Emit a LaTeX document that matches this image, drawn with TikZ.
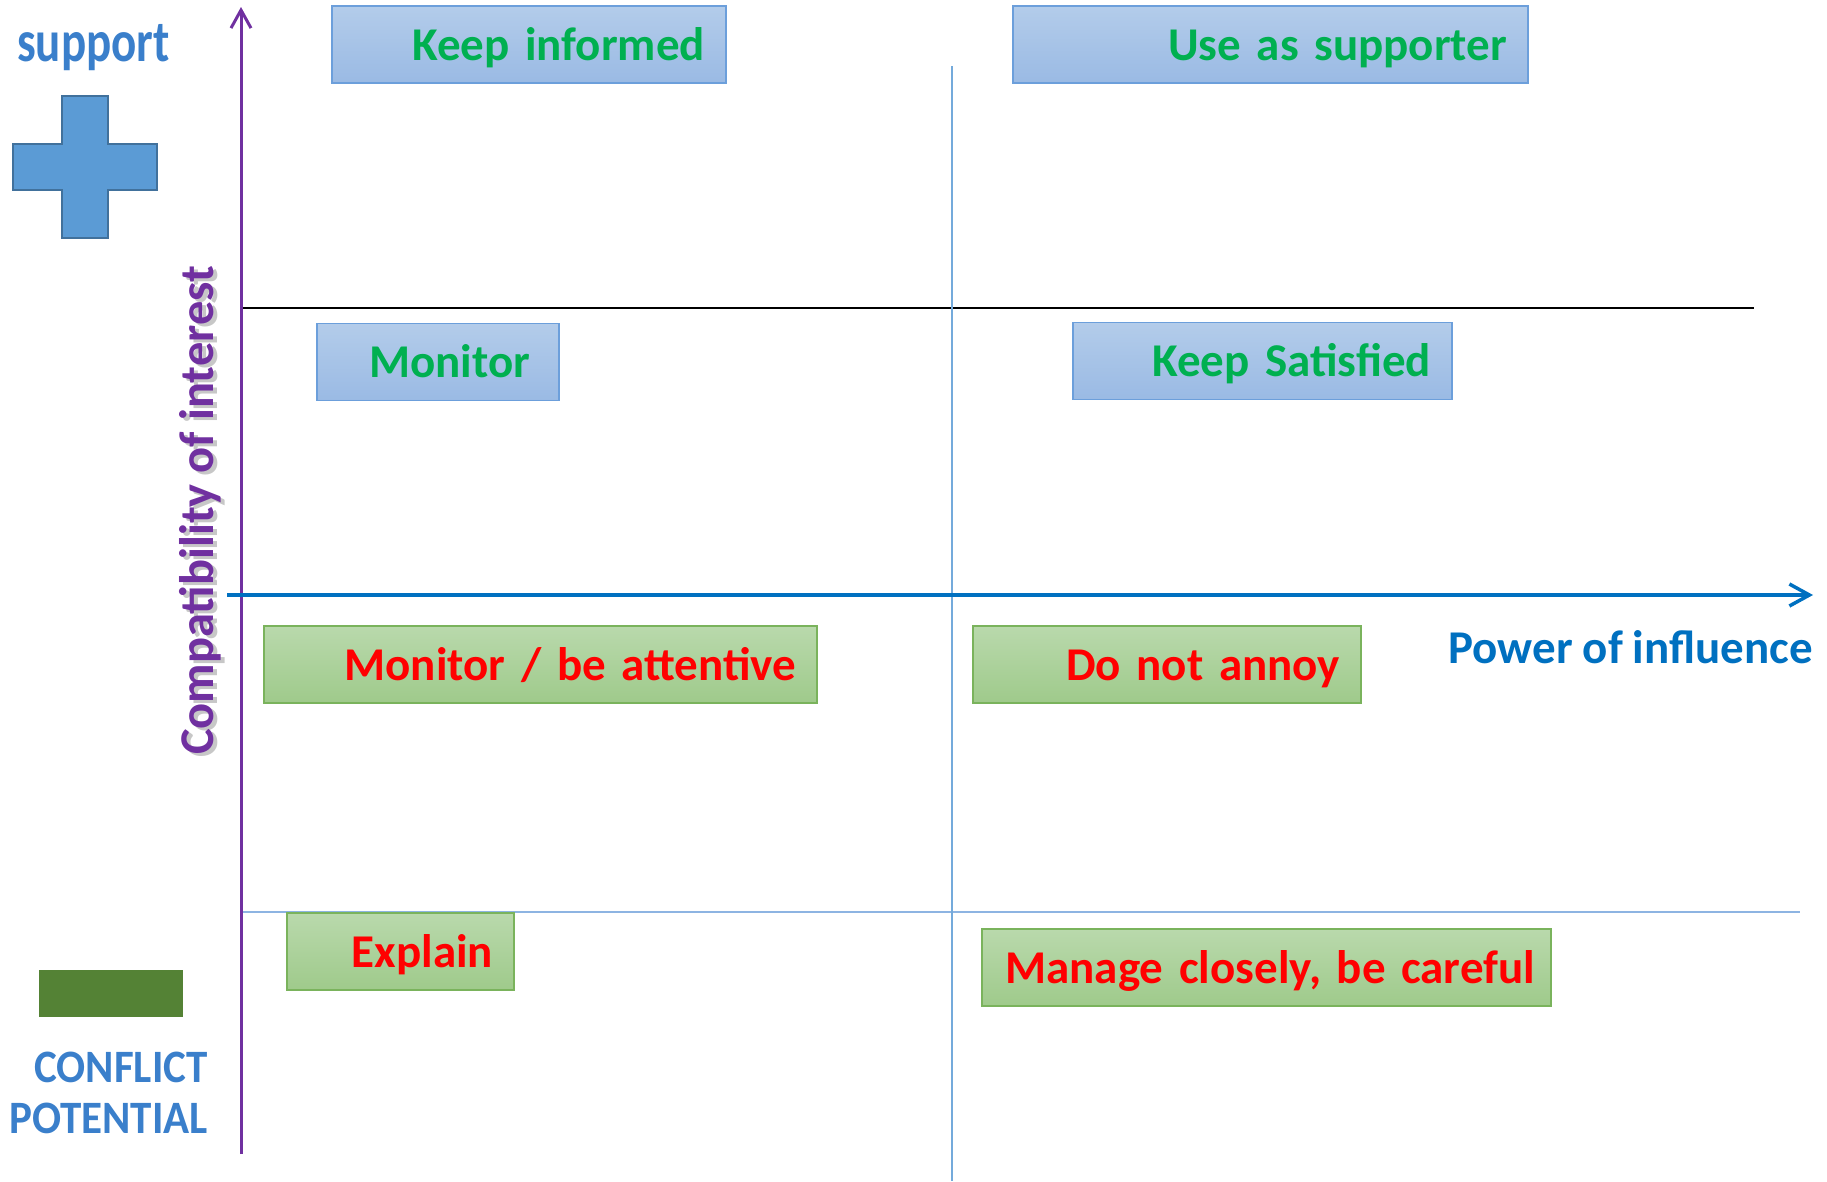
\documentclass[tikz,border=0pt]{standalone}
\usepackage{fontspec}
\setmainfont{Carlito}
\usepackage{xcolor}
\usepackage{graphicx}
\usepackage{tikz}
\usetikzlibrary{arrows.meta}

\newcommand\tightwords{\spaceskip=0.21em\relax}

\definecolor{interestpurple}{HTML}{7030A0}
\definecolor{powerblue}{HTML}{0070C0}
\definecolor{keepgreen}{HTML}{00B050}
\definecolor{alertred}{HTML}{FF0000}
\definecolor{blueTop}{HTML}{B3CCEA}
\definecolor{blueBottom}{HTML}{9ABAE4}
\definecolor{blueEdge}{HTML}{6C9FDB}
\definecolor{greenTop}{HTML}{B9D9AC}
\definecolor{greenBottom}{HTML}{9FCA8B}
\definecolor{greenEdge}{HTML}{7AB35C}
\definecolor{plusFill}{HTML}{5B9BD5}
\definecolor{plusEdge}{HTML}{41719C}
\definecolor{minusFill}{HTML}{548235}
\definecolor{wordart}{HTML}{3A7FCB}
\definecolor{gridline}{HTML}{8DB4E2}

\begin{document}
\begin{tikzpicture}[
    x=1pt, y=-1pt,
    bigfont/.style={font=\fontsize{47}{56}\selectfont\bfseries\tightwords},
    caption/.style={bigfont, inner sep=0pt},
    component/.style={rectangle, bigfont, line width=1.5pt, inner xsep=21pt, inner ysep=0pt,
        minimum height=77pt, text height=40pt, text depth=9pt, align=right},
    support_box/.style={component, top color=blueTop, bottom color=blueBottom, draw=blueEdge, text=keepgreen, text width=#1},
    conflict_box/.style={component, top color=greenTop, bottom color=greenBottom, draw=greenEdge, text=alertred, text width=#1},
    interest_arrow/.style={-{Straight Barb[length=18pt, width=20pt]}, line width=3pt, interestpurple},
    power_arrow/.style={-{Straight Barb[length=20pt, width=22pt]}, line width=3.5pt, powerblue},
    divider/.style={line width=1.5pt}
]
\useasboundingbox (0,0) rectangle (1827,1181);

% Axis end points
\coordinate (interest_start) at (241,1154);
\coordinate (interest_end) at (241,7);
\coordinate (power_start) at (227,595);
\coordinate (power_end) at (1813,595);
\coordinate (middle_top) at (952,66);
\coordinate (middle_bottom) at (952,1181);
\coordinate (upper_left) at (241,308);
\coordinate (upper_right) at (1754,308);
\coordinate (lower_left) at (241,912);
\coordinate (lower_right) at (1800,912);

% Dividers
\draw[divider, black] (upper_left) -- (upper_right);
\draw[divider, gridline] (lower_left) -- (lower_right);
\draw[divider, plusFill!85] (middle_top) -- (middle_bottom);

% Axes
\draw[interest_arrow] (interest_start) -- (interest_end);
\draw[power_arrow] (power_start) -- (power_end);

% Axis labels
\node[caption, font=\fontsize{48.5}{58}\selectfont\bfseries, text=black!22, rotate=90, anchor=base west] (interest_shadow) at (217,758) {Compatibility of interest};
\node[caption, font=\fontsize{48.5}{58}\selectfont\bfseries, text=interestpurple, rotate=90, anchor=base west] (interest_label) at (213,755) {Compatibility of interest};
\node[caption, text=powerblue, anchor=base east] (power_label) at (1813,663) {Power of influence};

% Support side
\node[caption, text=wordart, anchor=base west] (support_label) at (17,61) {\scalebox{1}[1.25]{support}};
\draw[plusEdge, fill=plusFill, line width=2.5pt]
    (62,96) -- (108,96) -- (108,144) -- (157,144) -- (157,190) -- (108,190) -- (108,238)
    -- (62,238) -- (62,190) -- (13,190) -- (13,144) -- (62,144) -- cycle;

% Conflict side
\fill[minusFill] (39,970) rectangle (183,1017);
\node[caption, font=\fontsize{43}{51}\selectfont\bfseries, text=wordart, anchor=base east] (conflict_label) at (208,1082) {\scalebox{1}[1.08]{CONFLICT}};
\node[caption, font=\fontsize{43}{51}\selectfont\bfseries, text=wordart, anchor=base east] (potential_label) at (208,1133) {\scalebox{1}[1.08]{POTENTIAL}};

% Upper quadrants
\node[support_box=352pt] (keep_informed) at (529,44.5) {Keep informed};
\node[support_box=473pt] (use_as_supporter) at (1270.5,44.5) {Use as supporter};
\node[support_box=184pt, inner xsep=29pt] (monitor) at (438,362) {Monitor};
\node[support_box=337pt] (keep_satisfied) at (1262.5,361) {Keep Satisfied};

% Lower quadrants
\node[conflict_box=511pt] (be_attentive) at (540.5,664.5) {Monitor / be attentive};
\node[conflict_box=346pt] (do_not_annoy) at (1167,664.5) {Do not annoy};
\node[conflict_box=185pt] (explain) at (400.5,951.5) {Explain};
\node[conflict_box=537pt, inner xsep=16pt] (manage_closely) at (1266.5,967.5) {Manage closely, be careful};

\end{tikzpicture}
\end{document}
